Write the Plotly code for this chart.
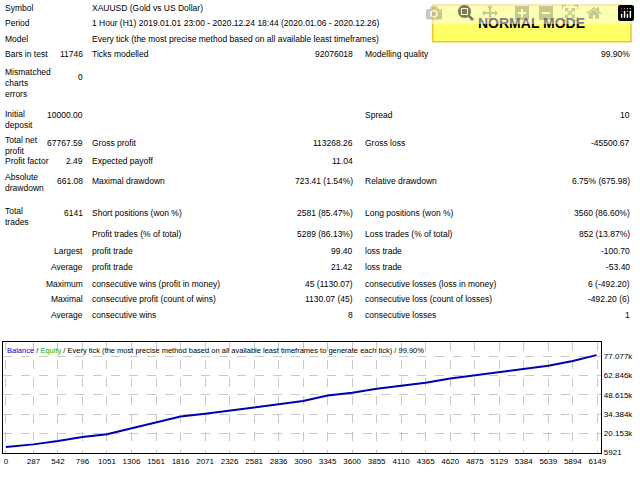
import plotly.graph_objects as go

trades = [0, 287, 542, 796, 1051, 1306, 1561, 1816, 2071, 2326, 2581, 2836, 3090, 3345,
          3600, 3855, 4110, 4365, 4620, 4875, 5129, 5384, 5639, 5894, 6141]
balance = [10000, 12000, 14500, 17500, 19500, 24000, 28000, 32500, 34500, 37000, 39500,
           41500, 44000, 48000, 50000, 53000, 55000, 57500, 60500, 63000, 65000, 68000,
           70000, 73500, 77800]
xticks = [0, 287, 542, 796, 1051, 1306, 1561, 1816, 2071, 2326, 2581, 2836, 3090, 3345,
          3600, 3855, 4110, 4365, 4620, 4875, 5129, 5384, 5639, 5894, 6149]
yticks = [5921, 20153, 34384, 48615, 62846, 77077]

W, H = 640, 480
F = dict(family="Liberation Sans", size=8.5, color="black")

rows = [
    ("Symbol", 3, 8, "left"), ("XAUUSD (Gold vs US Dollar)", 91, 8, "left"),
    ("Period", 3, 23, "left"), ("1 Hour (H1) 2019.01.01 23:00 - 2020.12.24 18:44 (2020.01.06 - 2020.12.26)", 91, 23, "left"),
    ("Model", 3, 39, "left"), ("Every tick (the most precise method based on all available least timeframes)", 91, 39, "left"),
    ("Bars in test", 3, 54, "left"), ("11746", 86, 54, "right"), ("Ticks modelled", 91, 54, "left"),
    ("92076018", 358, 54, "right"), ("Modelling quality", 366, 54, "left"), ("99.90%", 637, 54, "right"),
    ("Mismatched<br>charts<br>errors", 3, 84, "left"), ("0", 86, 78, "right"),
    ("Initial<br>deposit", 3, 120, "left"), ("10000.00", 86, 116, "right"),
    ("Spread", 366, 116, "left"), ("10", 637, 116, "right"),
    ("Total net<br>profit", 3, 147, "left"), ("67767.59", 86, 144, "right"), ("Gross profit", 91, 144, "left"),
    ("113268.26", 358, 144, "right"), ("Gross loss", 366, 144, "left"), ("-45500.67", 637, 144, "right"),
    ("Profit factor", 3, 162, "left"), ("2.49", 86, 162, "right"), ("Expected payoff", 91, 162, "left"),
    ("11.04", 358, 162, "right"),
    ("Absolute<br>drawdown", 3, 184, "left"), ("661.08", 86, 183, "right"), ("Maximal drawdown", 91, 183, "left"),
    ("723.41 (1.54%)", 358, 183, "right"), ("Relative drawdown", 366, 183, "left"), ("6.75% (675.98)", 637, 183, "right"),
    ("Total<br>trades", 3, 218, "left"), ("6141", 86, 215, "right"), ("Short positions (won %)", 91, 215, "left"),
    ("2581 (85.47%)", 358, 215, "right"), ("Long positions (won %)", 366, 215, "left"), ("3560 (86.60%)", 637, 215, "right"),
    ("Profit trades (% of total)", 91, 236, "left"), ("5289 (86.13%)", 358, 236, "right"),
    ("Loss trades (% of total)", 366, 236, "left"), ("852 (13.87%)", 637, 236, "right"),
    ("Largest", 86, 253, "right"), ("profit trade", 91, 253, "left"), ("99.40", 358, 253, "right"),
    ("loss trade", 366, 253, "left"), ("-100.70", 637, 253, "right"),
    ("Average", 86, 269, "right"), ("profit trade", 91, 269, "left"), ("21.42", 358, 269, "right"),
    ("loss trade", 366, 269, "left"), ("-53.40", 637, 269, "right"),
    ("Maximum", 86, 286, "right"), ("consecutive wins (profit in money)", 91, 286, "left"), ("45 (1130.07)", 358, 286, "right"),
    ("consecutive losses (loss in money)", 366, 286, "left"), ("6 (-492.20)", 637, 286, "right"),
    ("Maximal", 86, 302, "right"), ("consecutive profit (count of wins)", 91, 302, "left"), ("1130.07 (45)", 358, 302, "right"),
    ("consecutive loss (count of losses)", 366, 302, "left"), ("-492.20 (6)", 637, 302, "right"),
    ("Average", 86, 318, "right"), ("consecutive wins", 91, 318, "left"), ("8", 358, 318, "right"),
    ("consecutive losses", 366, 318, "left"), ("1", 637, 318, "right"),
]

fig = go.Figure()
fig.add_trace(go.Scatter(x=trades, y=balance, mode="lines",
                         line=dict(color="#0000b0", width=2), showlegend=False))

ann = []
for t, x, y, a in rows:
    ann.append(dict(text=t, x=x / W, y=1 - y / H, xref="paper", yref="paper",
                    xanchor=a, yanchor="middle", showarrow=False, font=F, align="left"))
ann.append(dict(text="<span style='color:#0000cc'>Balance</span> / <span style='color:#00bb00'>Equity</span> / Every tick (the most precise method based on all available least timeframes to generate each tick) / 99.90%",
                x=5 / W, y=1 - 353 / H, xref="paper", yref="paper", xanchor="left", yanchor="middle",
                showarrow=False, font=dict(family="Liberation Sans", size=7.5, color="black")))
ann.append(dict(text="<b>NORMAL MODE</b>", x=536 / W, y=1 - 23.5 / H, xref="paper", yref="paper",
                xanchor="center", yanchor="middle",
                showarrow=False, font=dict(family="Liberation Sans", size=14, color="black")))

fig.update_layout(
    width=W, height=H, margin=dict(l=0, r=0, t=0, b=0),
    paper_bgcolor="white", plot_bgcolor="white", annotations=ann,
    shapes=[dict(type="rect", xref="paper", yref="paper", x0=436 / W, x1=636 / W,
                 y0=1 - 42 / H, y1=1 - 5 / H, fillcolor="#ffff66",
                 line=dict(color="#f0c040", width=1.5), layer="below")],
    xaxis=dict(domain=[3 / W, 606 / W], range=[-30, 6190], tickvals=xticks,
               showgrid=True, gridcolor="#c8c8c8", griddash="dash", gridwidth=1,
               showline=True, linecolor="black", mirror=True, ticks="",
               tickfont=dict(family="Liberation Sans", size=8, color="black"), zeroline=False),
    yaxis=dict(domain=[1 - 457 / H, 1 - 345 / H], range=[5500, 87400], tickvals=yticks,
               side="right", showgrid=True, gridcolor="#c8c8c8", griddash="dash",
               showline=True, linecolor="black", mirror=True, ticks="",
               tickfont=dict(family="Liberation Sans", size=8, color="black"), zeroline=False),
)
fig.write_html("out.html",
               post_script="document.body.style.margin='0';document.body.style.overflow='hidden';")
